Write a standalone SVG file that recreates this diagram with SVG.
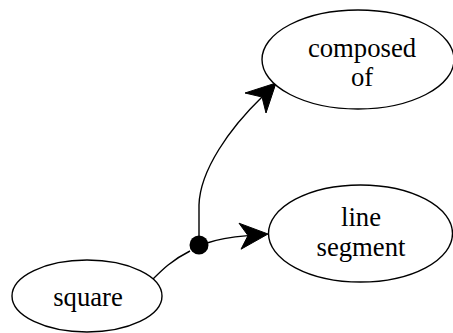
<svg xmlns="http://www.w3.org/2000/svg" width="453" height="333" viewBox="0 0 453 333">
<style>
.node ellipse{fill:#fff;stroke:#000;stroke-width:1.4}
.node text{font-family:"Liberation Serif","Times New Roman",serif;font-size:26.7px;fill:#000;text-anchor:middle}
.edge path{fill:none;stroke:#000;stroke-width:1.4}
.edge polygon{fill:#000;stroke:#000;stroke-width:1}
</style>
<rect width="453" height="333" fill="#fff"/>
<g id="connectors" class="edge">
<path d="M153,279 C162,270 172,260 190,251"/>
<path d="M207,243 C218,239 232,237 248,235.6"/>
<polygon points="268,234 241,249.2 248,235.6 239,223.2"/>
<path d="M199,237 L199,205 C200,170 230,128 262,97"/>
<polygon points="276,83 266,113 262,97 245,93"/>
<circle cx="199" cy="245" r="9.5" fill="#000"/>
</g>
<g id="node-composed" class="node">
<ellipse cx="358" cy="59.5" rx="96" ry="49.5"/>
<text x="362" y="56.5">composed</text>
<text x="362" y="86">of</text>
</g>
<g id="node-line-segment" class="node">
<ellipse cx="360.5" cy="233.5" rx="92" ry="48.5"/>
<text x="361" y="225.5">line</text>
<text x="361" y="255.5">segment</text>
</g>
<g id="node-square" class="node">
<ellipse cx="87" cy="296" rx="75" ry="36"/>
<text x="88" y="306">square</text>
</g>
</svg>
